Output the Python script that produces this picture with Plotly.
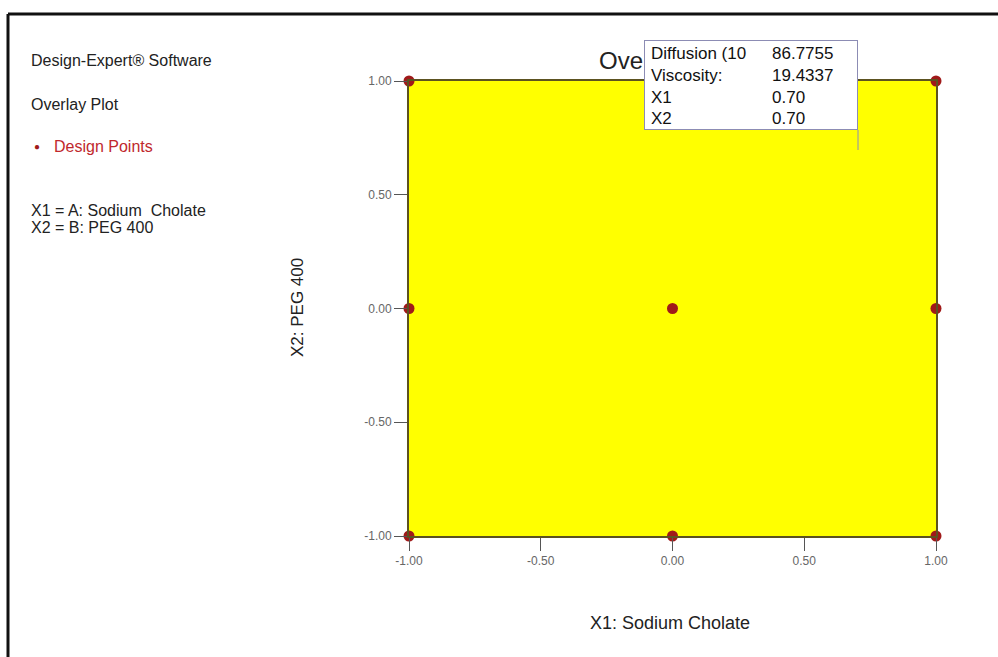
import plotly.graph_objects as go

# ---- data ----
design_x = [-1, 0, 1, -1, 0, 1, -1, 0, 1]
design_y = [-1, -1, -1, 0, 0, 0, 1, 1, 1]
region_x = [-1, 1, 1, -1, -1]
region_y = [-1, -1, 1, 1, -1]
tick_vals = [-1.0, -0.5, 0.0, 0.5, 1.0]
tick_text = ["-1.00", "-0.50", "0.00", "0.50", "1.00"]
tip_labels = ["Diffusion (10", "Viscosity:", "X1", "X2"]
tip_values = ["86.7755", "19.4337", "0.70", "0.70"]
side_lines = ["Design-Expert\u00ae Software", "Overlay Plot"]
factor_lines = ["X1 = A: Sodium  Cholate", "X2 = B: PEG 400"]

W, H = 998, 657
L, R, T, B = 409, 936, 81, 536
PW, PH = R - L, B - T


def px(x):
    return (x - L) / PW


def py(y):
    return (B - y) / PH


FONT = "Liberation Sans, Arial, sans-serif"
RED = "#a01a1a"

fig = go.Figure()
fig.add_trace(go.Scatter(
    x=region_x, y=region_y, mode="lines", fill="toself",
    fillcolor="#ffff00", line=dict(width=0), hoverinfo="skip", showlegend=False))
fig.add_trace(go.Scatter(
    x=design_x, y=design_y, mode="markers", cliponaxis=False,
    marker=dict(size=11, color=RED, line=dict(width=0)), showlegend=False))

axis_common = dict(
    range=[-1, 1], showgrid=False, zeroline=False, showline=True, mirror=True,
    linecolor="#5c5220", linewidth=2, ticks="outside", ticklen=13, tickwidth=1,
    tickcolor="#555555", tickvals=tick_vals, ticktext=tick_text,
    tickfont=dict(family=FONT, size=12, color="#666666"))

fig.update_layout(
    width=W, height=H, margin=dict(l=L, r=W - R, t=T, b=H - B),
    paper_bgcolor="white", plot_bgcolor="white",
    xaxis=dict(**axis_common),
    yaxis=dict(**axis_common),
    showlegend=False,
)


def text_at(x, y, text, size, color, xanchor="left", **kw):
    return dict(x=px(x), y=py(y), xref="paper", yref="paper", text=text,
                xanchor=xanchor, yanchor="middle", showarrow=False,
                font=dict(family=FONT, size=size, color=color), **kw)


ann = []
# axis titles
ann.append(text_at(670, 623, "X1: Sodium Cholate", 18, "#222222", xanchor="center"))
ann.append(text_at(297, 308, "X2: PEG 400", 17, "#222222", xanchor="center", textangle=-90))
# side texts
ann.append(text_at(29, 61, side_lines[0], 16, "#222222"))
ann.append(text_at(29, 104, side_lines[1], 16, "#222222"))
ann.append(text_at(32, 146, "\u25cf", 10, RED))
ann.append(text_at(52, 146, "Design Points", 16, "#c0282d"))
ann.append(text_at(29, 210, factor_lines[0], 16, "#222222"))
ann.append(text_at(29, 227, factor_lines[1], 16, "#222222"))
# chart title (partly hidden by the tooltip box)
ann.append(text_at(597, 61, "Overlay Plot", 24, "#222222"))
# tooltip box
ann.append(dict(x=px(644), y=py(40), xref="paper", yref="paper", text=" ", xanchor="left", yanchor="top",
                width=212, height=88, bgcolor="white", bordercolor="#8c8cb4", borderwidth=1, borderpad=0,
                showarrow=False, font=dict(family=FONT, size=12)))
rows_y = [53, 75, 97, 118]
for lab, val, ry in zip(tip_labels, tip_values, rows_y):
    ann.append(text_at(649, ry, lab, 17, "#111111"))
    ann.append(text_at(770, ry, val, 17, "#111111"))

shapes = [
    dict(type="line", xref="paper", yref="paper", x0=px(858), x1=px(858), y0=py(130), y1=py(150),
         line=dict(color="#8c8cb4", width=1), layer="above"),
    dict(type="line", xref="paper", yref="paper", x0=px(8), x1=px(W + 2), y0=py(14), y1=py(14),
         line=dict(color="#111111", width=3), layer="above"),
    dict(type="line", xref="paper", yref="paper", x0=px(8), x1=px(8), y0=py(14), y1=py(H + 2),
         line=dict(color="#111111", width=3), layer="above"),
]

fig.update_layout(annotations=ann, shapes=shapes)
fig.write_html("out.html")
